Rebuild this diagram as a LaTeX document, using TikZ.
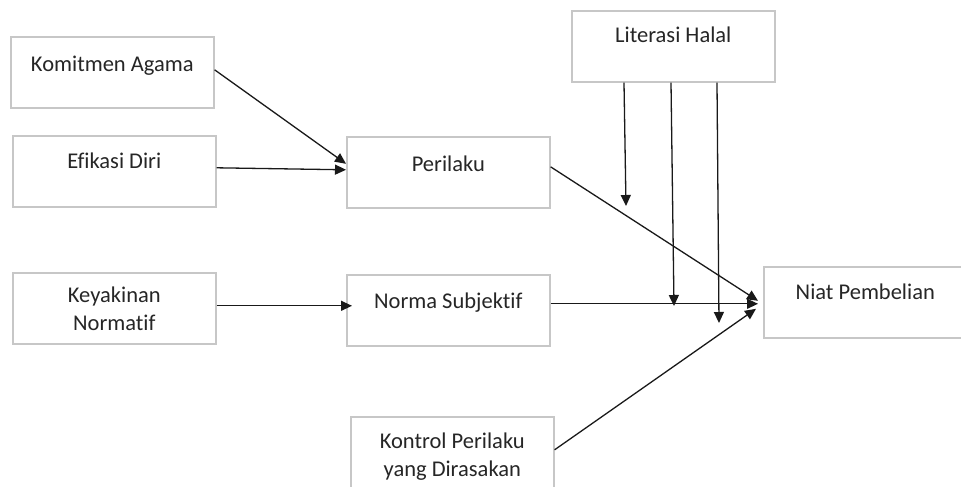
\documentclass[tikz,border=0pt]{standalone}
\usepackage{fontspec}
\setmainfont{Carlito}[Ligatures=NoCommon]
\usetikzlibrary{arrows.meta,positioning}
\begin{document}
\begin{tikzpicture}[x=1pt,y=-1pt,
  box/.style={draw=black!22, line width=1.6pt, fill=white, minimum width=203pt, minimum height=71pt, inner sep=0pt, anchor=north west},
  lbl/.style={font=\fontsize{22.5}{28}\selectfont, text=black!85, align=center, anchor=base, inner sep=0pt},
  conn/.style={draw=black!90, line width=1.3pt, -{Triangle[length=11pt,width=10pt]}}]
\useasboundingbox (0,0) rectangle (961,487);
% boxes
\node[box] (ka) at (10,36) {};
\node[lbl] (kat) at ([yshift=-36pt]ka.north) {Komitmen Agama};
\node[box] (ed) at (12,135) {};
\node[lbl] (edt) at ([yshift=-33pt]ed.north) {Efikasi Diri};
\node[box] (kn) at (12,272) {};
\node[lbl] (knt) at ([yshift=-58pt]kn.north) {Keyakinan\\Normatif};
\node[box] (pe) at (346,136) {};
\node[lbl] (pet) at ([yshift=-35pt]pe.north) {Perilaku};
\node[box] (ns) at (346,274) {};
\node[lbl] (nst) at ([yshift=-34pt]ns.north) {Norma Subjektif};
\node[box] (kp) at (350,416) {};
\node[lbl] (kpt) at ([yshift=-60pt]kp.north) {Kontrol Perilaku\\yang Dirasakan};
\node[box] (lh) at (571,10) {};
\node[lbl] (lht) at ([yshift=-33pt]lh.north) {Literasi Halal};
\node[box] (np) at (763,266) {};
\node[lbl] (npt) at ([yshift=-33pt]np.north) {Niat Pembelian};
% connectors
\draw[conn] ([yshift=2.5pt]ka.east) -- ([yshift=8.5pt]pe.west);
\draw[conn] ([yshift=3.5pt]ed.east) -- ([yshift=2.5pt]pe.west);
\draw[conn] ([yshift=2.5pt]kn.east) -- ([xshift=6pt,yshift=4.5pt]ns.west);
\draw[conn] ([yshift=5.5pt]pe.east) -- ([xshift=-5pt,yshift=1.5pt]np.west);
\draw[conn] ([yshift=6.5pt]ns.east) -- ([xshift=-5pt,yshift=-1.5pt]np.west);
\draw[conn] ([yshift=2.5pt]kp.east) -- ([xshift=-7pt,yshift=-6.5pt]np.west);
\coordinate (m1) at (626,206);
\coordinate (m2) at (674,306);
\coordinate (m3) at (719,323);
\draw[conn] (lh.south -| 624,0) -- (m1);
\draw[conn] (lh.south -| 671,0) -- (m2);
\draw[conn] (lh.south -| 717,0) -- (m3);
\end{tikzpicture}
\end{document}
